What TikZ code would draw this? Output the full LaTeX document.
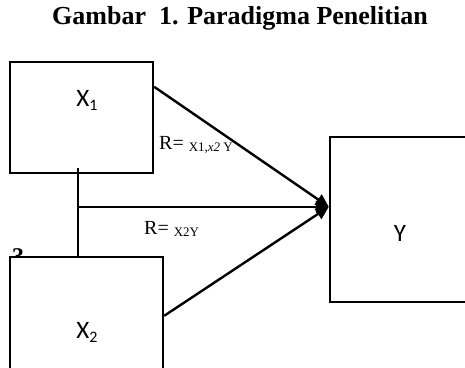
\documentclass[tikz,border=0pt]{standalone}
\usepackage{fontspec}
\setmainfont{Liberation Serif}
\newfontfamily\boxfont{Carlito}
\usetikzlibrary{arrows.meta,calc}
\newcommand{\varsub}[1]{\raisebox{-4pt}{\fontsize{16}{18}\selectfont #1}}
\tikzset{
    varbox/.style={
        draw,
        line width=2.4pt,
        fill=white,
        inner sep=0pt
    },
    varname/.style={
        font=\boxfont\fontsize{25}{28}\selectfont,
        inner sep=0pt
    },
    path line/.style={
        line width=2.4pt
    },
    path arrow/.style={
        line width=2.4pt,
        -{Triangle[length=13pt,width=12pt]}
    },
    rlabel/.style={
        anchor=base west,
        inner sep=0pt,
        font=\fontsize{20}{22}\selectfont
    }
}

\begin{document}
\begin{tikzpicture}[x=1pt,y=-1pt]
                \useasboundingbox (0,0) rectangle (465,367);
                \clip (0,0) rectangle (465,367);
                % title
                \node[font=\bfseries\fontsize{26}{30}\selectfont] (title) at (240,18) {Gambar\ \ 1. Paradigma Penelitian};
                \node[font=\bfseries\fontsize{24}{28}\selectfont, anchor=base west, inner sep=0pt] (stray) at (12,264) {3};
                % the three variables
                \node[varbox, minimum width=143pt, minimum height=111pt] (x1) at (81.5,117.5) {};
                \node[varbox, minimum width=153pt, minimum height=134pt] (x2) at (86.5,324) {};
                \node[varbox, minimum width=145pt, minimum height=165pt] (y) at (402.5,219.5) {};
                \node[varname] (x1 name) at (87,100) {X\varsub{1}};
                \node[varname] (x2 name) at (87,332) {X\varsub{2}};
                \node[varname] (y name) at (400,233) {Y};
                % points where the lines meet
                \coordinate (tip) at ($(y.north west)+(0,71)$);
                \coordinate (x1 out) at ($(x1.north east)+(0,26)$);
                \coordinate (x2 out) at ($(x2.north east)+(0,60)$);
                \coordinate (x1 drop) at ($(x1.south)+(-3.5,-6)$);
                \coordinate (x2 top) at (x1 drop |- x2.north);
                \coordinate (join) at (x1 drop |- tip);
                \draw[path line] (x1 drop) -- (x2 top);
                \draw[path arrow] (x1 out) -- (tip);
                \draw[path arrow] (join) -- (tip);
                \draw[path arrow] (x2 out) -- (tip);
                % correlation labels
                \node[rlabel] (r12) at (159,149) {R=\ \raisebox{-2pt}{\fontsize{13}{14}\selectfont X1,\textit{x2} Y}};
                \node[rlabel] (r2) at (144,234) {R=\ \raisebox{-2pt}{\fontsize{13}{14}\selectfont X2Y}};
            \end{tikzpicture}
\end{document}
